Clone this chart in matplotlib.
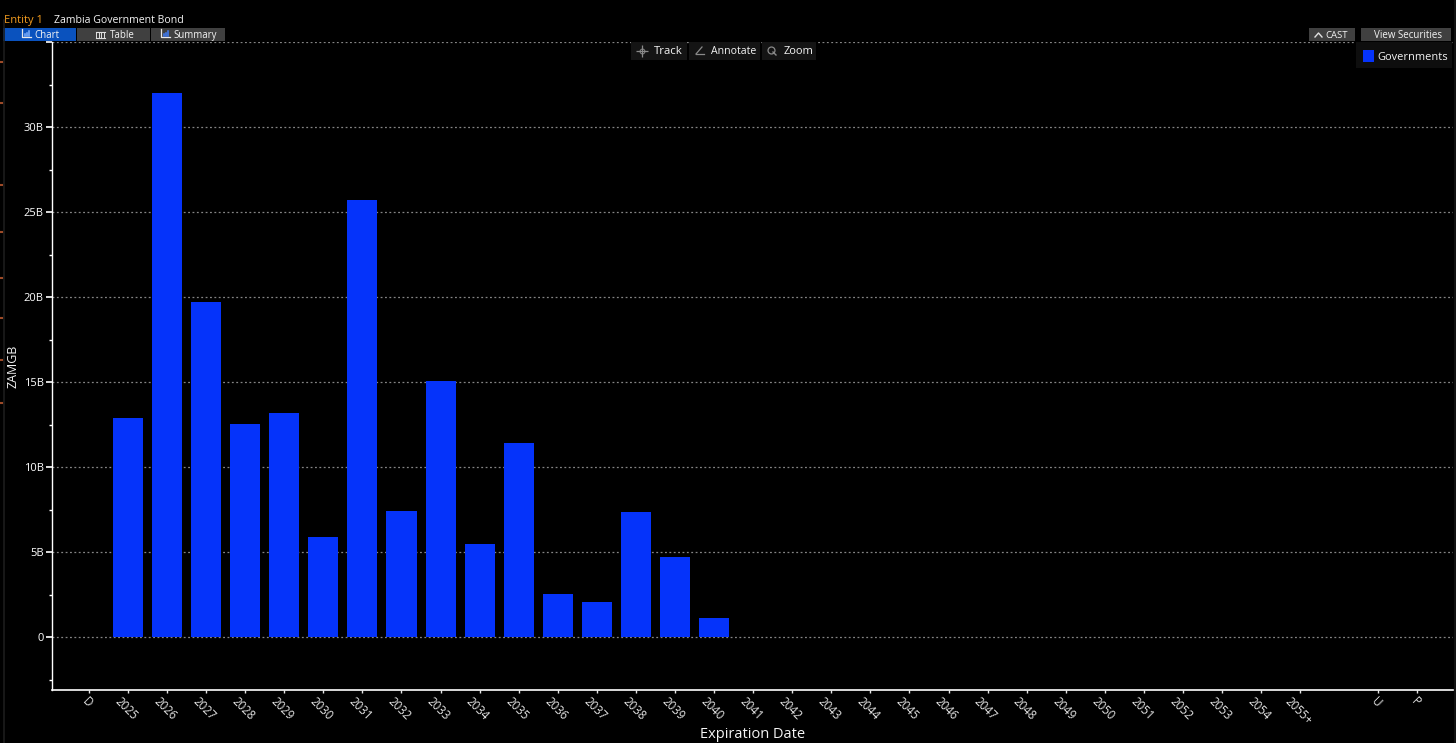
import matplotlib
matplotlib.use('Agg')
import matplotlib.pyplot as plt
from matplotlib.patches import Rectangle
from matplotlib.transforms import ScaledTranslation

plt.rcParams['font.family'] = ['Open Sans', 'DejaVu Sans']

# data, billions
years = [str(y) for y in range(2025, 2041)]
amounts = [12.9, 32.0, 19.7, 12.55, 13.2, 5.9, 25.7, 7.45, 15.1, 5.5, 11.4, 2.55, 2.1, 7.4, 4.7, 1.15]
tick_labels = ['D'] + [str(y) for y in range(2025, 2055)] + ['2055+', '', 'U', 'P']
y_major = [0, 5, 10, 15, 20, 25, 30, 35]
y_major_labels = ['0', '5B', '10B', '15B', '20B', '25B', '30B', '']
y_minor = [-2.5, 2.5, 7.5, 12.5, 17.5, 22.5, 27.5, 32.5]
side_marks = [62, 103, 185, 232, 278, 318, 360, 403]

W, H = 1456, 743
BAR_BLUE = '#0533FA'
TEXT = '#F4F4F4'

fig = plt.figure(figsize=(W / 100, H / 100), dpi=100, facecolor='black')

# main chart axes, placed in pixels
left, right, top, bottom = 51.5, 1453, 42, 690
ax = fig.add_axes([left / W, 1 - bottom / H, (right - left) / W, (bottom - top) / H], facecolor='black')
positions = list(range(len(tick_labels)))
keep = [p for p in positions if tick_labels[p] != '']

ax.bar(positions[1:len(years) + 1], amounts, width=0.77, color=BAR_BLUE, zorder=3)

ax.set_xlim(-0.957, 34.91)
ax.set_ylim(-3.09, 35.0)
ax.set_xticks(keep)
ax.set_xticklabels([tick_labels[p] for p in keep], rotation=-45, ha='center', va='top', fontsize=8.3, color='#EEEEEE')
ax.set_yticks(y_major)
ax.set_yticklabels(y_major_labels, fontsize=8, color=TEXT)
ax.set_yticks(y_minor, minor=True)
ax.tick_params(axis='x', colors='#E6E6E6', length=2.5, width=1, pad=1)
ax.tick_params(axis='y', which='major', colors='white', length=4, width=1.2, pad=1.5)
ax.tick_params(axis='y', which='minor', colors='white', length=2, width=1)
shift = ScaledTranslation(-2 / 100, 0, fig.dpi_scale_trans)
for t in ax.get_xticklabels():
    t.set_transform(t.get_transform() + shift)
ax.grid(axis='y', which='major', color='#858585', linestyle=(0, (1.5, 2)), linewidth=0.9, zorder=1)
ax.spines['top'].set_visible(False)
ax.spines['right'].set_visible(False)
ax.spines['left'].set_color('white')
ax.spines['bottom'].set_color('white')
ax.spines['left'].set_linewidth(1.0)
ax.spines['bottom'].set_linewidth(1.2)

fig.text(753 / W, 1 - 734 / H, 'Expiration Date', color=TEXT, fontsize=10.5, ha='center', va='center')
fig.text(13 / W, 1 - 366 / H, 'ZAMGB', color=TEXT, fontsize=9, rotation=90, ha='center', va='center')

# overlay in pixel coordinates for the terminal buttons
ui = fig.add_axes([0, 0, 1, 1], facecolor='none', zorder=5)
ui.set_xlim(0, W)
ui.set_ylim(H, 0)
ui.axis('off')


def box(x0, y0, x1, y1, color):
    ui.add_patch(Rectangle((x0, y0), x1 - x0, y1 - y0, facecolor=color, edgecolor='none'))


def label(x, y, s, color=TEXT, size=7.5, ha='left'):
    ui.text(x, y + 0.8, s, color=color, fontsize=size, ha=ha, va='center')


def chart_icon(x, y, color):
    ui.plot([x, x, x + 9], [y - 5, y + 3, y + 3], color='#E8E8E8', lw=0.9)
    for i, h in enumerate([2, 3, 5]):
        ui.plot([x + 3 + i * 2, x + 3 + i * 2], [y + 2, y + 2 - h], color=color, lw=1.1)


# side strip left over from the screen grab
ui.plot([3.5, 3.5], [20, 743], color='#1C1C1C', lw=1.2)
ui.plot([1454.5, 1454.5], [0, 743], color='#151515', lw=1.2)
for m in side_marks:
    ui.plot([0, 1.5], [m, m], color='#9C4A28', lw=1.5)

label(4, 19.5, 'Entity 1', color='#F39C1F', size=8)
label(54, 19.5, 'Zambia Government Bond', size=7.6)

box(3, 27.5, 76, 40.5, '#0A52BE')
box(77, 27.5, 150, 40.5, '#404040')
box(151, 27.5, 224.5, 40.5, '#404040')
chart_icon(22, 34, '#7FB0FF')
label(34, 34.5, 'Chart', size=7)
ui.plot([95.5, 104.5], [31.5, 31.5], color='#E0E0E0', lw=0.8)
ui.plot([95.5, 104.5], [37.5, 37.5], color='#E0E0E0', lw=0.8)
for gx in [96, 98.5, 101, 103.5]:
    ui.plot([gx, gx], [31.5, 37.5], color='#E0E0E0', lw=0.7)
label(110, 34.5, 'Table', size=7)
chart_icon(161, 34, '#3F7FFF')
label(173, 34.5, 'Summary', size=6.9)

box(1309, 28, 1355, 41, '#404040')
ui.plot([1315, 1318.5, 1322], [37, 33, 37], color='#E0E0E0', lw=1)
label(1325, 34.5, 'CAST', size=6.8)
box(1361, 28, 1451, 41, '#404040')
label(1408, 34.5, 'View Securities', size=7, ha='center')

box(1356, 42, 1452, 68, '#0E0E0E')
box(1363, 50, 1374, 61.5, BAR_BLUE)
label(1377, 56.5, 'Governments', size=7.9)

# toolbar over the top gridline
box(631, 42, 686.5, 60, '#141414')
box(688.5, 42, 759.5, 60, '#141414')
box(761.5, 42, 816, 60, '#141414')
ui.plot([642], [50.5], marker='+', markersize=8, color='#8A8A8A', mew=0.9)
ui.plot([642], [50.5], marker='o', markersize=3.5, mfc='none', color='#8A8A8A', mew=0.7)
label(654, 50.5, 'Track', size=8.2)
ui.plot([696, 704], [54, 54], color='#8A8A8A', lw=0.9)
ui.plot([696, 702], [54, 47], color='#8A8A8A', lw=0.9)
label(711, 50.5, 'Annotate', size=7.6)
ui.plot([771], [49.5], marker='o', markersize=5, mfc='none', color='#8A8A8A', mew=0.9)
ui.plot([773, 776], [52, 55], color='#8A8A8A', lw=1)
label(784, 50.5, 'Zoom', size=8)

fig.savefig('out.png', dpi=100, facecolor='black')
